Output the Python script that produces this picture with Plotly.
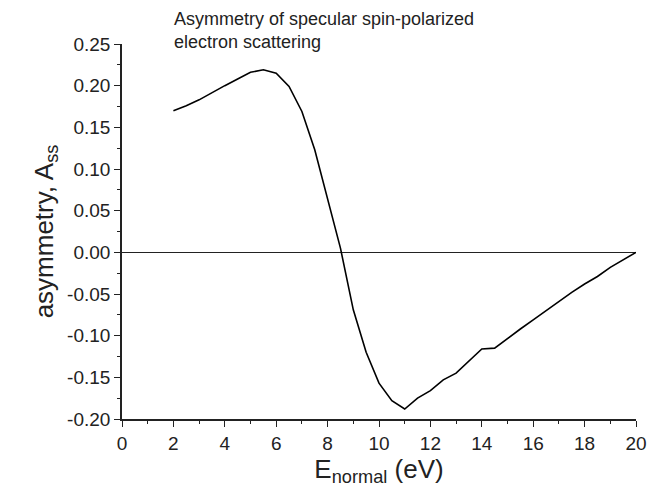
import plotly.graph_objects as go

energy = [2.0, 2.5, 3.0, 3.5, 4.0, 4.5, 5.0, 5.5, 6.0, 6.5, 7.0, 7.5, 8.0, 8.5,
          9.0, 9.5, 10.0, 10.5, 11.0, 11.5, 12.0, 12.5, 13.0, 13.5, 14.0, 14.5,
          15.0, 15.5, 16.0, 16.5, 17.0, 17.5, 18.0, 18.5, 19.0, 19.5, 20.0]
asymmetry = [0.170, 0.176, 0.183, 0.191, 0.200, 0.208, 0.216, 0.219, 0.215, 0.199,
             0.169, 0.123, 0.064, 0.005, -0.069, -0.120, -0.157, -0.178, -0.188,
             -0.175, -0.166, -0.153, -0.145, -0.131, -0.116, -0.115, -0.103, -0.092,
             -0.081, -0.070, -0.058, -0.048, -0.038, -0.029, -0.018, -0.009, 0.0]

x_ticks = list(range(0, 21, 2))
y_ticks = [0.25, 0.20, 0.15, 0.10, 0.05, 0.00, -0.05, -0.10, -0.15, -0.20]
y_tick_labels = ["0.25", "0.20", "0.15", "0.10", "0.05", "0.00", "-0.05", "-0.10", "-0.15", "-0.20"]

fig = go.Figure()
fig.add_trace(go.Scatter(x=energy, y=asymmetry, mode="lines",
                         line=dict(color="black", width=1.6), showlegend=False))

font_family = "Liberation Sans, Arial, sans-serif"

fig.update_layout(
    width=663, height=493,
    margin=dict(l=122, r=27, t=44, b=74),
    plot_bgcolor="white", paper_bgcolor="white",
    font=dict(family=font_family, color="#222"),
    xaxis=dict(range=[0, 20], tickvals=x_ticks, ticks="outside", ticklen=6, tickwidth=1.2,
               tickcolor="#222", showline=True, linecolor="#222", linewidth=1.6,
               showgrid=False, zeroline=False, tickfont=dict(size=19),
               minor=dict(dtick=1, ticks="outside", ticklen=3, tickcolor="#222", tickwidth=1.2),
               title=dict(text="E<sub>normal</sub> (eV)", font=dict(size=26), standoff=2)),
    yaxis=dict(range=[-0.20, 0.25], tickvals=y_ticks, ticktext=y_tick_labels,
               ticks="outside", ticklen=6, tickwidth=1.2, tickcolor="#222",
               showline=True, linecolor="#222", linewidth=1.6, showgrid=False,
               zeroline=True, zerolinecolor="#222", zerolinewidth=1.4,
               tickfont=dict(size=19),
               minor=dict(dtick=0.025, tick0=0, ticks="outside", ticklen=3, tickcolor="#222", tickwidth=1.2),
               title=dict(text="asymmetry, A<sub>ss</sub>", font=dict(size=26), standoff=6)),
    annotations=[dict(text="Asymmetry of specular spin-polarized<br>electron scattering",
                      xref="paper", yref="paper", x=0.098, y=1.0, xanchor="left", yanchor="bottom",
                      yshift=-10, align="left", showarrow=False, font=dict(size=18, color="#222"))],
)

fig.write_html("out.html")
